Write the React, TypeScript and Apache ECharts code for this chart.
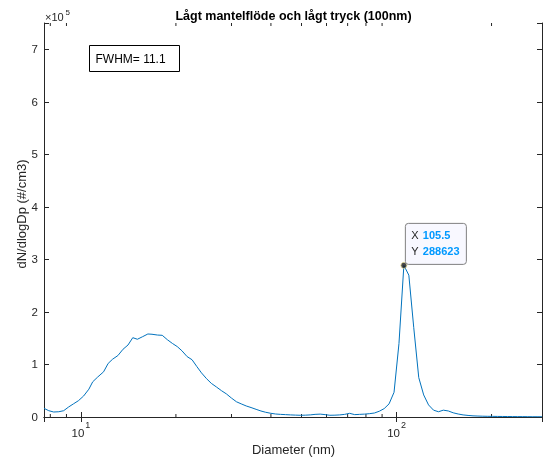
import React, { useEffect, useRef } from "react";
import * as echarts from "echarts";

// Diameter bins (nm), 64 channels per decade
const diameters = [
  7.64, 7.91, 8.2, 8.51, 8.82, 9.14, 9.47, 9.82, 10.2, 10.6, 10.9, 11.3, 11.8, 12.2, 12.6, 13.1, 13.6,
  14.1, 14.6, 15.1, 15.7, 16.3, 16.8, 17.5, 18.1, 18.8, 19.5, 20.2, 20.9, 21.7, 22.5, 23.3, 24.1, 25.0,
  25.9, 26.9, 27.9, 28.9, 30.0, 31.1, 32.2, 33.4, 34.6, 35.9, 37.2, 38.5, 40.0, 41.4, 42.9, 44.5, 46.1,
  47.8, 49.6, 51.4, 53.3, 55.2, 57.3, 59.4, 61.5, 63.8, 66.1, 68.5, 71.0, 73.7, 76.4, 79.1, 82.0, 85.1,
  88.2, 91.4, 94.7, 98.2, 101.8, 105.5, 109.4, 113.4, 117.6, 121.9, 126.3, 131.0, 135.8, 140.7, 145.9,
  151.2, 156.8, 162.5, 168.5, 174.7, 181.1, 187.7, 194.6, 201.7, 209.1, 216.7, 224.7, 232.9, 241.4,
  250.3, 259.5, 269.0, 278.8, 289.0,
];

// dN/dlogDp (#/cm3)
const concentration = [
  16500, 12000, 9500, 10000, 12000, 19000, 25000, 31000, 40000, 53000, 67000, 76000, 86000, 102000,
  110000, 117000, 129000, 137000, 151000, 148000, 153000, 158000, 157500, 156000, 155500, 147000,
  140000, 134000, 126000, 115000, 109000, 96000, 84000, 73000, 64000, 57000, 50000, 44000, 36000,
  29000, 25000, 21000, 18000, 14600, 11400, 9000, 7000, 5700, 5000, 4500, 4000, 3600, 3300, 3500, 4000,
  5000, 5500, 4500, 3300, 3500, 4000, 5000, 7000, 4500, 5000, 5500, 6300, 7600, 11000, 16000, 25000,
  47000, 140000, 288623, 270000, 170000, 75000, 42000, 23000, 13000, 10000, 13000, 11500, 8000, 5700,
  4000, 3000, 2200, 1800, 1500, 1300, 1200, 1100, 1000, 900, 800, 700, 700, 600, 500, 500, 400,
];

const minorTicks = [8, 9, 20, 30, 40, 50, 60, 70, 80, 90, 200];
const peakX = 105.5;
const peakY = 288623;
const titleText = "Lågt mantelflöde och lågt tryck (100nm)";
const xLabelText = "Diameter (nm)";
const yLabelText = "dN/dlogDp (#/cm3)";
const fwhmText = "FWHM= 11.1";

const AXIS = "#262626";
const FONT = "'Liberation Sans', Arial, Helvetica, sans-serif";
const LINE = "#0072BD";
const TIP_VALUE = "#0099ff";

export default function App() {
  const ref = useRef<HTMLDivElement>(null);

  useEffect(() => {
    const chart = echarts.init(ref.current!, null, { renderer: "svg" });

    const xLabelFmt = (v: number) => {
      const e = Math.log10(v);
      if (Math.abs(e - Math.round(e)) < 1e-6) return `{b|10}{s|${Math.round(e)}}`;
      return "";
    };

    const commonX = {
      type: "log",
      logBase: 10,
      min: 7.64,
      max: 289,
      axisLine: { show: true, lineStyle: { color: AXIS, width: 1 } },
      axisTick: { show: true, inside: true, length: 5, lineStyle: { color: AXIS, width: 1 } },
      splitLine: { show: false },
      minorTick: { show: false },
    };
    const commonY = {
      type: "value",
      min: 0,
      max: 750000,
      interval: 100000,
      axisLine: { show: true, lineStyle: { color: AXIS, width: 1 } },
      axisTick: { show: true, inside: true, length: 5, lineStyle: { color: AXIS, width: 1 } },
      splitLine: { show: false },
    };

    const option: any = {
      animation: false,
      grid: { left: 44, top: 23, width: 499, height: 394, containLabel: false },
      xAxis: [
        {
          ...commonX,
          position: "bottom",
          axisLabel: {
            show: true,
            margin: 3,
            color: AXIS,
            fontFamily: FONT,
            formatter: xLabelFmt,
            rich: {
              b: { fontSize: 11.5, fontFamily: FONT, color: AXIS, lineHeight: 19, verticalAlign: "bottom" },
              s: { fontSize: 9, fontFamily: FONT, color: AXIS, lineHeight: 9, verticalAlign: "top", padding: [0, 0, 0, 1] },
            },
          },
        },
        { ...commonX, position: "top", axisLabel: { show: false } },
      ],
      yAxis: [
        {
          ...commonY,
          position: "left",
          axisLabel: {
            show: true,
            margin: 6,
            color: AXIS,
            fontSize: 11.5,
            fontFamily: FONT,
            formatter: (v: number) => {
              const r = v / 100000;
              return Math.abs(r - Math.round(r)) < 1e-6 ? String(Math.round(r)) : "";
            },
          },
        },
        { ...commonY, position: "right", axisLabel: { show: false } },
      ],
      series: [
        {
          type: "line",
          xAxisIndex: 0,
          yAxisIndex: 0,
          data: diameters.map((d, i) => [d, concentration[i]]),
          showSymbol: false,
          symbol: "none",
          smooth: false,
          lineStyle: { color: LINE, width: 1 },
          silent: true,
        },
        {
          type: "custom",
          xAxisIndex: 0,
          yAxisIndex: 0,
          silent: true,
          clip: false,
          data: minorTicks.map((v) => [v, 100000]),
          encode: { x: 0, y: 1 },
          renderItem: (params: any, api: any) => {
            const x = api.coord([api.value(0), api.value(1)])[0];
            const cs = params.coordSys;
            const bottom = cs.y + cs.height;
            const top = cs.y;
            return {
              type: "group",
              children: [
                { type: "line", shape: { x1: x, y1: bottom, x2: x, y2: bottom - 3 }, style: { stroke: AXIS, lineWidth: 1 } },
                { type: "line", shape: { x1: x, y1: top, x2: x, y2: top + 3 }, style: { stroke: AXIS, lineWidth: 1 } },
              ],
            };
          },
        },
        {
          type: "scatter",
          xAxisIndex: 0,
          yAxisIndex: 0,
          silent: true,
          data: [[peakX, peakY]],
          symbol: "circle",
          symbolSize: 6,
          itemStyle: { color: "#1a1a1a", borderColor: "#e8e09a", borderWidth: 1 },
          z: 5,
        },
      ],
    };

    chart.setOption(option);

    const p = chart.convertToPixel({ xAxisIndex: 0, yAxisIndex: 0 }, [peakX, peakY]) as number[];
    const plotCenter = 44 + 499 / 2;

    chart.setOption({
      graphic: [
        {
          type: "text",
          x: plotCenter,
          y: 16,
          style: {
            text: titleText,
            fontSize: 12.5,
            fontWeight: "bold",
            fontFamily: FONT,
            fill: "#000",
            align: "center",
            verticalAlign: "middle",
          },
        },
        {
          type: "text",
          x: 45,
          y: 16.5,
          style: { text: "×10", fontSize: 11, fontFamily: FONT, fill: AXIS, align: "left", verticalAlign: "middle" },
        },
        {
          type: "text",
          x: 65.5,
          y: 12.5,
          style: { text: "5", fontSize: 8, fontFamily: FONT, fill: AXIS, align: "left", verticalAlign: "middle" },
        },
        {
          type: "text",
          x: plotCenter,
          y: 449.5,
          style: { text: xLabelText, fontSize: 13, fontFamily: FONT, fill: AXIS, align: "center", verticalAlign: "middle" },
        },
        {
          type: "text",
          x: 21,
          y: 214,
          rotation: Math.PI / 2,
          style: { text: yLabelText, fontSize: 13, fontFamily: FONT, fill: AXIS, align: "center", verticalAlign: "middle" },
        },
        {
          type: "rect",
          shape: { x: 89.5, y: 45.5, width: 90, height: 26 },
          style: { fill: "#fff", stroke: "#000", lineWidth: 1 },
        },
        {
          type: "text",
          x: 95.5,
          y: 58.5,
          style: { text: fwhmText, fontSize: 12, fontFamily: FONT, fill: "#000", align: "left", verticalAlign: "middle" },
        },
        {
          type: "rect",
          shape: { x: p[0] + 1.5, y: p[1] - 42, width: 61, height: 41, r: 3 },
          style: { fill: "#f8f8ff", stroke: "#808080", lineWidth: 1 },
          z: 10,
        },
        {
          type: "text",
          x: p[0] + 7.5,
          y: p[1] - 30,
          z: 11,
          style: { text: "X", fontSize: 11, fontFamily: FONT, fill: AXIS, align: "left", verticalAlign: "middle" },
        },
        {
          type: "text",
          x: p[0] + 19,
          y: p[1] - 30,
          z: 11,
          style: { text: String(peakX), fontSize: 11, fontWeight: "bold", fontFamily: FONT, fill: TIP_VALUE, align: "left", verticalAlign: "middle" },
        },
        {
          type: "text",
          x: p[0] + 7.5,
          y: p[1] - 14.5,
          z: 11,
          style: { text: "Y", fontSize: 11, fontFamily: FONT, fill: AXIS, align: "left", verticalAlign: "middle" },
        },
        {
          type: "text",
          x: p[0] + 19,
          y: p[1] - 14.5,
          z: 11,
          style: { text: String(peakY), fontSize: 11, fontWeight: "bold", fontFamily: FONT, fill: TIP_VALUE, align: "left", verticalAlign: "middle" },
        },
      ],
    });

    return () => chart.dispose();
  }, []);

  return <div ref={ref} style={{ position: "fixed", left: 0, top: 0, width: 545, height: 459 }} />;
}
